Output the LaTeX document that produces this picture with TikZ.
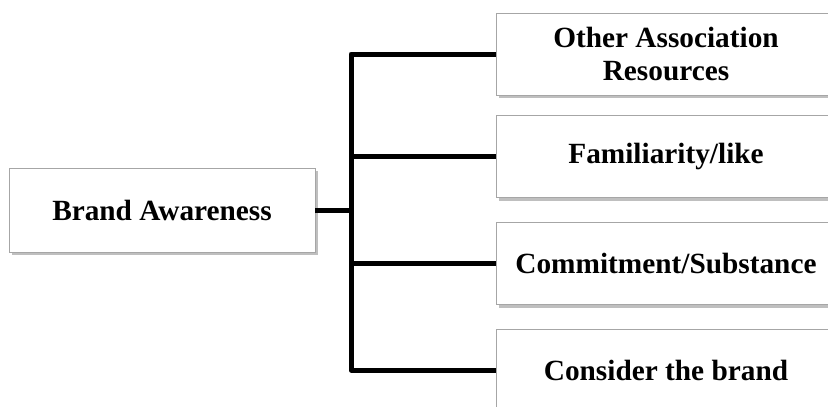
\documentclass[tikz,border=0pt]{standalone}
\usepackage{fontspec}
\setmainfont{Liberation Serif}
\usetikzlibrary{shadows}
\begin{document}
\begin{tikzpicture}[x=1pt,y=-1pt,
  box/.style={draw=gray!70, line width=0.9pt, fill=white, inner sep=0pt,
    minimum width=340pt, minimum height=82pt, align=center,
    font=\fontsize{29.3}{33}\selectfont\bfseries,
    drop shadow={shadow xshift=2.5pt, shadow yshift=-3pt, fill=black, opacity=0.25}},
  conn/.style={line width=5pt, line join=round}]
\useasboundingbox (0,0) rectangle (828,407);
\clip (0,0) rectangle (828,407);
\node[box, minimum width=306pt, minimum height=84pt] (ba) at (162,210) {Brand Awareness};
\node[box] (r1) at (666,54) {Other Association\\Resources};
\node[box] (r2) at (666,156.5) {Familiarity/like};
\node[box] (r3) at (666,263.5) {Commitment/Substance};
\node[box] (r4) at (666,370) {Consider the brand};
\coordinate (tr) at (351,210);
\draw[conn] (ba.east) -- (tr);
\draw[conn] (r1.west) -| (tr) |- (r4.west);
\draw[conn] (r2.west) -- (r2.west -| tr);
\draw[conn] (r3.west) -- (r3.west -| tr);
\end{tikzpicture}
\end{document}
